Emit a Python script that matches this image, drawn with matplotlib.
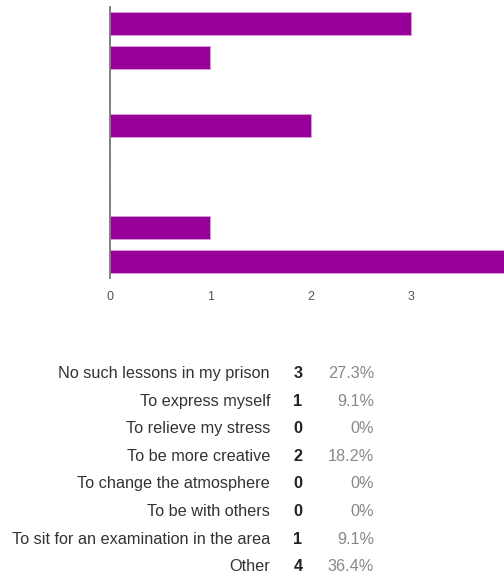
import matplotlib.pyplot as plt

plt.rcParams['font.family'] = ['Liberation Sans', 'DejaVu Sans']

categories = ["No such lessons in my prison", "To express myself", "To relieve my stress",
              "To be more creative", "To change the atmosphere", "To be with others",
              "To sit for an examination in the area", "Other"]
counts = [3, 1, 0, 2, 0, 0, 1, 4]
percents = ["27.3%", "9.1%", "0%", "18.2%", "0%", "0%", "9.1%", "36.4%"]
xticks = [0, 1, 2, 3]

W, H = 504, 580
fig = plt.figure(figsize=(W / 100, H / 100), dpi=100)

# bar chart, right part runs past the figure edge like the screenshot
ax = fig.add_axes([110 / W, 1 - 278 / H, 401 / W, 271 / H])
ypos = list(range(len(categories)))
ax.barh(ypos, counts, height=0.68, color='#990099', edgecolor='#d9a0d9', linewidth=0.6)
ax.set_xlim(0, 4)
ax.set_ylim(len(categories) - 0.5, -0.5)
ax.set_yticks([])
ax.set_xticks(xticks)
ax.set_xticklabels([str(t) for t in xticks])
ax.tick_params(axis='x', length=0, pad=9, labelsize=9, labelcolor='#555555')
for s in ['top', 'right', 'bottom']:
    ax.spines[s].set_visible(False)
ax.spines['left'].set_color('#777777')
ax.spines['left'].set_linewidth(1.3)

# legend table below
row0 = 378
step = 27.6
for i, (cat, n, p) in enumerate(zip(categories, counts, percents)):
    y = 1 - (row0 + i * step) / H
    fig.text(270 / W, y, cat, ha='right', va='baseline', fontsize=11.7, color='#333333')
    fig.text(298 / W, y, str(n), ha='center', va='baseline', fontsize=11.7,
             color='#222222', fontweight='bold')
    fig.text(374 / W, y, p, ha='right', va='baseline', fontsize=11.7, color='#888888')

fig.savefig('out.png', dpi=100)
